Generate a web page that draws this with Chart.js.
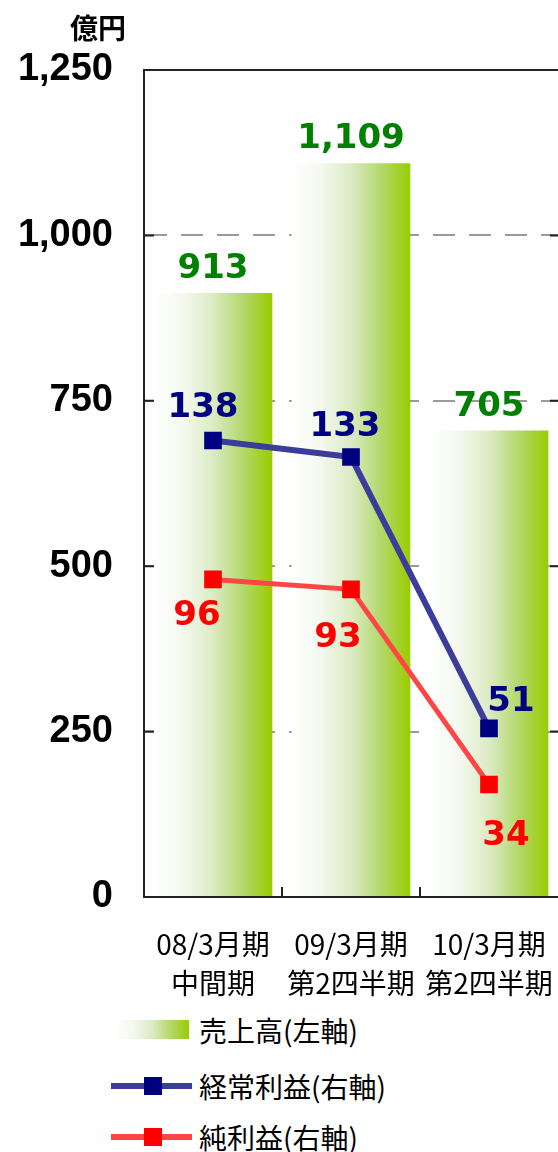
<!DOCTYPE html>
<html lang="ja">
<head>
    <meta charset="UTF-8">
    <title>売上高・経常利益・純利益</title>
    <script src="https://cdn.jsdelivr.net/npm/chart.js"></script>
    <style>
        body {
            margin: 0;
            width: 558px;
            height: 1152px;
            overflow: hidden;
            position: relative;
            background: #fff;
            font-family: "Noto Sans CJK JP", sans-serif;
        }
        #chart-box {
            position: absolute;
            left: 0;
            top: 0;
            width: 558px;
            height: 1005px;
        }
        .sym, .txt {
            position: absolute;
        }
        .txt {
            left: 199px;
            font-size: 28px;
            line-height: 40px;
            color: #000;
            white-space: nowrap;
        }
        .grad-box {
            left: 115px;
            width: 74px;
            height: 19px;
            background: linear-gradient(to right, #ffffff 0%, #f4f8ee 25%, #dcebc4 50%, #b4d86c 75%, #99cc00 100%);
        }
        .line {
            left: 111px;
            width: 81px;
            height: 6px;
        }
        .mark {
            left: 144px;
            width: 18px;
            height: 18px;
        }
    </style>
</head>
<body>
    <div id="chart-box"><canvas id="resultChart"></canvas></div>

    <div class="sym grad-box" style="top:1020px"></div>
    <div class="txt" style="top:1010px">売上高(左軸)</div>

    <div class="sym line" style="top:1083px;background:#3c3c9c"></div>
    <div class="sym mark" style="top:1077px;background:#000080"></div>
    <div class="txt" style="top:1066px">経常利益(右軸)</div>

    <div class="sym line" style="top:1134px;background:#ff4646"></div>
    <div class="sym mark" style="top:1128px;background:#ff0000"></div>
    <div class="txt" style="top:1117px">純利益(右軸)</div>

    <script>
        // data (億円)
        const periods = [['08/3月期', '中間期'], ['09/3月期', '第2四半期'], ['10/3月期', '第2四半期']];
        const sales = [913, 1109, 705];
        const ordinaryProfit = [138, 133, 51];
        const netProfit = [96, 93, 34];
        const leftTicks = [0, 250, 500, 750, 1000, 1250];
        const rightMax = 250;

        const BAR_PCT = 0.86;
        const fmt = v => v.toLocaleString('en-US');

        // label offsets from each point (x, baseline y)
        const ordinaryOffsets = [[-10, -23], [-6, -21], [22, -17]];
        const netOffsets = [[-16, 46], [-13, 58], [17, 60]];

        function barGradient(c) {
            const chart = c.chart;
            const xs = chart.scales.x;
            if (!chart.chartArea || !xs) return '#99cc00';
            const cx = xs.getPixelForValue(c.dataIndex);
            const w = (xs.getPixelForValue(1) - xs.getPixelForValue(0)) * BAR_PCT;
            const g = chart.ctx.createLinearGradient(cx - w / 2, 0, cx + w / 2, 0);
            g.addColorStop(0, '#ffffff');
            g.addColorStop(0.25, '#f4f8ee');
            g.addColorStop(0.5, '#dcebc4');
            g.addColorStop(0.75, '#b4d86c');
            g.addColorStop(1, '#99cc00');
            return g;
        }

        const decor = {
            id: 'decor',
            afterDatasetsDraw(chart) {
                const ctx = chart.ctx;
                ctx.save();
                ctx.font = 'bold 34px "DejaVu Sans"';
                ctx.textAlign = 'center';
                ctx.textBaseline = 'alphabetic';

                const bars = chart.getDatasetMeta(0).data;
                ctx.fillStyle = '#008000';
                bars.forEach((b, i) => ctx.fillText(fmt(sales[i]), b.x, b.y - 15));

                const ord = chart.getDatasetMeta(1).data;
                ctx.fillStyle = '#000080';
                ord.forEach((p, i) => ctx.fillText(ordinaryProfit[i], p.x + ordinaryOffsets[i][0], p.y + ordinaryOffsets[i][1]));

                const net = chart.getDatasetMeta(2).data;
                ctx.fillStyle = '#ff0000';
                net.forEach((p, i) => ctx.fillText(netProfit[i], p.x + netOffsets[i][0], p.y + netOffsets[i][1]));
                ctx.restore();
            },
            afterDraw(chart) {
                const ctx = chart.ctx;
                const a = chart.chartArea;
                const ys = chart.scales.y;
                const xs = chart.scales.x;
                ctx.save();
                ctx.strokeStyle = '#222';
                ctx.lineWidth = 2;
                ctx.beginPath();
                ctx.moveTo(a.left, a.top);
                ctx.lineTo(a.right, a.top);
                leftTicks.slice(1, -1).forEach(v => {
                    const y = ys.getPixelForValue(v);
                    ctx.moveTo(a.left, y);
                    ctx.lineTo(a.left + 10, y);
                    ctx.moveTo(a.right - 8, y);
                    ctx.lineTo(a.right, y);
                });
                for (let i = 0; i < periods.length - 1; i++) {
                    const x = (xs.getPixelForValue(i) + xs.getPixelForValue(i + 1)) / 2;
                    ctx.moveTo(x, a.bottom);
                    ctx.lineTo(x, a.bottom - 10);
                }
                ctx.stroke();

                ctx.fillStyle = '#000';
                ctx.font = 'bold 28px "Noto Sans CJK JP"';
                ctx.textAlign = 'center';
                ctx.textBaseline = 'middle';
                ctx.fillText('億円', 98, 28);
                ctx.restore();
            }
        };

        new Chart(document.getElementById('resultChart'), {
            data: {
                labels: periods,
                datasets: [
                    {
                        type: 'bar',
                        label: '売上高(左軸)',
                        data: sales,
                        yAxisID: 'y',
                        backgroundColor: barGradient,
                        borderWidth: 0,
                        barPercentage: BAR_PCT,
                        categoryPercentage: 1,
                        order: 2
                    },
                    {
                        type: 'line',
                        label: '経常利益(右軸)',
                        data: ordinaryProfit,
                        yAxisID: 'y1',
                        borderColor: '#3c3c9c',
                        borderWidth: 6,
                        pointStyle: 'rect',
                        pointRadius: 12.5,
                        pointBackgroundColor: '#000080',
                        pointBorderWidth: 0,
                        order: 1
                    },
                    {
                        type: 'line',
                        label: '純利益(右軸)',
                        data: netProfit,
                        yAxisID: 'y1',
                        borderColor: '#ff4646',
                        borderWidth: 5,
                        pointStyle: 'rect',
                        pointRadius: 12.5,
                        pointBackgroundColor: '#ff0000',
                        pointBorderWidth: 0,
                        order: 0
                    }
                ]
            },
            options: {
                responsive: true,
                maintainAspectRatio: false,
                animation: false,
                layout: { autoPadding: false, padding: { top: 70, right: 0, left: 0, bottom: 0 } },
                plugins: {
                    legend: { display: false },
                    tooltip: { enabled: false }
                },
                scales: {
                    x: {
                        grid: {
                            display: true,
                            drawOnChartArea: false,
                            drawTicks: true,
                            tickLength: 28,
                            color: 'rgba(0,0,0,0)'
                        },
                        border: { color: '#222', width: 2 },
                        ticks: {
                            color: '#000',
                            padding: 0,
                            maxRotation: 0,
                            autoSkip: false,
                            font: { family: '"Noto Sans CJK JP"', size: 28, lineHeight: 1.4 }
                        },
                        afterFit: s => {
                            s.height = 108;
                            s.paddingLeft = 0;
                            s.paddingRight = 0;
                        }
                    },
                    y: {
                        min: 0,
                        max: 1250,
                        afterBuildTicks: s => { s.ticks = leftTicks.map(v => ({ value: v })); },
                        grid: {
                            drawTicks: false,
                            color: c => (c.tick && (c.tick.value === 0 || c.tick.value === 1250)) ? 'rgba(0,0,0,0)' : '#9a9a9a',
                            lineWidth: 2
                        },
                        border: { color: '#222', width: 2, dash: [22, 14] },
                        ticks: {
                            color: '#000',
                            padding: 31,
                            font: { family: '"Liberation Sans"', size: 38, weight: 'bold' },
                            callback: v => fmt(v)
                        },
                        afterFit: s => { s.width = 144; }
                    },
                    y1: {
                        display: false,
                        position: 'right',
                        min: 0,
                        max: rightMax
                    }
                }
            },
            plugins: [decor]
        });
    </script>
</body>
</html>
